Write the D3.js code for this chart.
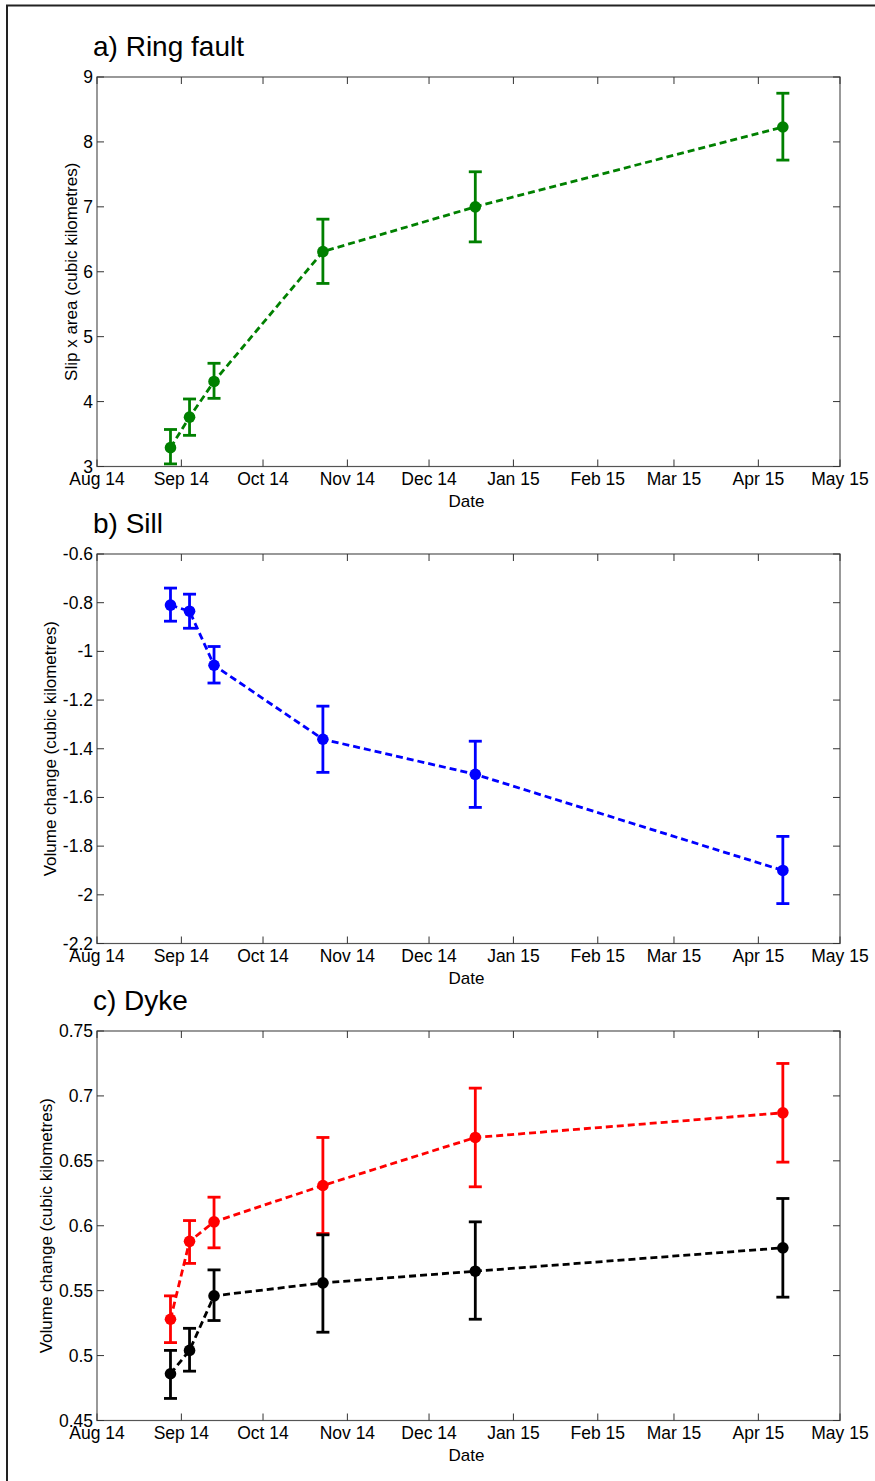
<!DOCTYPE html>
<html>
<head>
<meta charset="utf-8">
<script src="https://cdn.jsdelivr.net/npm/d3@7"></script>
<style>
  body { margin: 0; background: #fff; }
  svg text { font-family: "Liberation Sans", Arial, sans-serif; fill: #000; }
</style>
</head>
<body>
<svg id="fig" width="875" height="1481"></svg>
<script>
// observation dates (same for every series)
var dates = ["2014-08-28", "2014-09-04", "2014-09-13", "2014-10-23", "2014-12-18", "2015-04-10"];

// a) ring fault, slip x area
var ringVal = [3.29, 3.76, 4.31, 6.31, 7.00, 8.23];
var ringLo  = [3.04, 3.48, 4.05, 5.82, 6.46, 7.72];
var ringHi  = [3.57, 4.04, 4.59, 6.81, 7.54, 8.75];

// b) sill, volume change
var sillVal = [-0.81, -0.835, -1.057, -1.361, -1.505, -1.90];
var sillLo  = [-0.876, -0.905, -1.13, -1.497, -1.641, -2.036];
var sillHi  = [-0.74, -0.765, -0.98, -1.225, -1.369, -1.76];

// c) dyke, two series
var dykeRedVal = [0.528, 0.588, 0.603, 0.631, 0.668, 0.687];
var dykeRedLo  = [0.510, 0.571, 0.583, 0.594, 0.630, 0.649];
var dykeRedHi  = [0.546, 0.604, 0.622, 0.668, 0.706, 0.725];
var dykeBlkVal = [0.486, 0.504, 0.546, 0.556, 0.565, 0.583];
var dykeBlkLo  = [0.467, 0.488, 0.527, 0.518, 0.528, 0.545];
var dykeBlkHi  = [0.504, 0.521, 0.566, 0.593, 0.603, 0.621];

// tick labels
var xTicks = ["2014-08-01","2014-09-01","2014-10-01","2014-11-01","2014-12-01","2015-01-01",
              "2015-02-01","2015-03-01","2015-04-01","2015-05-01"];
var ringTicks = [3, 4, 5, 6, 7, 8, 9];
var sillTicks = [-2.2, -2, -1.8, -1.6, -1.4, -1.2, -1, -0.8, -0.6];
var dykeTicks = [0.45, 0.5, 0.55, 0.6, 0.65, 0.7, 0.75];

var parse = d3.timeParse("%Y-%m-%d");
var svg = d3.select("#fig");

// outer frame
svg.append("rect")
    .attr("x", 7).attr("y", 5.5)
    .attr("width", 900).attr("height", 1500)
    .attr("fill", "none").attr("stroke", "#222").attr("stroke-width", 2);

var left = 97, right = 840;

function makeSeries(vals, lo, hi, color) {
    return dates.map(function(d, i) {
        return { date: parse(d), v: vals[i], lo: lo[i], hi: hi[i], color: color };
    });
}

function panel(top, title, ylabel, ylabelX, yTicks, series) {
    var bottom = top + 389.5;
    var x = d3.scaleTime()
        .domain([parse(xTicks[0]), parse(xTicks[xTicks.length - 1])])
        .range([left, right]);
    var y = d3.scaleLinear()
        .domain([yTicks[0], yTicks[yTicks.length - 1]])
        .range([bottom, top]);

    var g = svg.append("g");
    var tk = xTicks.map(parse);

    // box
    g.append("rect")
        .attr("x", left).attr("y", top)
        .attr("width", right - left).attr("height", bottom - top)
        .attr("fill", "none").attr("stroke", "#555").attr("stroke-width", 1.2);

    // inward ticks, all four sides
    g.selectAll(".xb").data(tk).join("line")
        .attr("x1", d => x(d)).attr("x2", d => x(d))
        .attr("y1", bottom).attr("y2", bottom - 7)
        .attr("stroke", "#333");
    g.selectAll(".xt").data(tk).join("line")
        .attr("x1", d => x(d)).attr("x2", d => x(d))
        .attr("y1", top).attr("y2", top + 7)
        .attr("stroke", "#333");
    g.selectAll(".yl").data(yTicks).join("line")
        .attr("x1", left).attr("x2", left + 7)
        .attr("y1", d => y(d)).attr("y2", d => y(d))
        .attr("stroke", "#333");
    g.selectAll(".yr").data(yTicks).join("line")
        .attr("x1", right).attr("x2", right - 7)
        .attr("y1", d => y(d)).attr("y2", d => y(d))
        .attr("stroke", "#333");

    // tick labels
    var fmt = d3.timeFormat("%b %y");
    g.selectAll(".xlab").data(tk).join("text")
        .attr("x", d => x(d)).attr("y", bottom + 18.5)
        .attr("text-anchor", "middle")
        .style("font-size", "17.5px")
        .text(d => fmt(d));
    g.selectAll(".ylab").data(yTicks).join("text")
        .attr("x", left - 4).attr("y", d => y(d) + 6)
        .attr("text-anchor", "end")
        .style("font-size", "17.5px")
        .text(d => String(+d.toFixed(2)));

    g.append("text")
        .attr("x", (left + right) / 2 - 2).attr("y", bottom + 40)
        .attr("text-anchor", "middle")
        .style("font-size", "17px")
        .text("Date");

    g.append("text")
        .attr("transform", "translate(" + ylabelX + "," + ((top + bottom) / 2) + ") rotate(-90)")
        .attr("text-anchor", "middle")
        .style("font-size", "17px")
        .text(ylabel);

    g.append("text")
        .attr("x", 93).attr("y", top - 21)
        .style("font-size", "28px")
        .text(title);

    var line = d3.line().x(d => x(d.date)).y(d => y(d.v));

    series.forEach(function(s) {
        var c = s[0].color;
        g.append("path")
            .datum(s)
            .attr("d", line)
            .attr("fill", "none")
            .attr("stroke", c)
            .attr("stroke-width", 2.8)
            .attr("stroke-dasharray", "7,4");

        var eb = g.append("g").attr("stroke", c).attr("stroke-width", 2.8);
        eb.selectAll(".v").data(s).join("line")
            .attr("x1", d => x(d.date)).attr("x2", d => x(d.date))
            .attr("y1", d => y(d.lo)).attr("y2", d => y(d.hi));
        eb.selectAll(".ch").data(s).join("line")
            .attr("x1", d => x(d.date) - 6.5).attr("x2", d => x(d.date) + 6.5)
            .attr("y1", d => y(d.hi)).attr("y2", d => y(d.hi));
        eb.selectAll(".cl").data(s).join("line")
            .attr("x1", d => x(d.date) - 6.5).attr("x2", d => x(d.date) + 6.5)
            .attr("y1", d => y(d.lo)).attr("y2", d => y(d.lo));

        g.selectAll(null).data(s).join("circle")
            .attr("cx", d => x(d.date)).attr("cy", d => y(d.v))
            .attr("r", 5.8)
            .attr("fill", c);
    });
}

panel(77, "a) Ring fault", "Slip x area (cubic kilometres)", 77, ringTicks,
      [makeSeries(ringVal, ringLo, ringHi, "#008000")]);
panel(554, "b) Sill", "Volume change (cubic kilometres)", 56, sillTicks,
      [makeSeries(sillVal, sillLo, sillHi, "#0000ff")]);
panel(1031, "c) Dyke", "Volume change (cubic kilometres)", 52, dykeTicks,
      [makeSeries(dykeRedVal, dykeRedLo, dykeRedHi, "#ff0000"),
       makeSeries(dykeBlkVal, dykeBlkLo, dykeBlkHi, "#000000")]);
</script>
</body>
</html>
